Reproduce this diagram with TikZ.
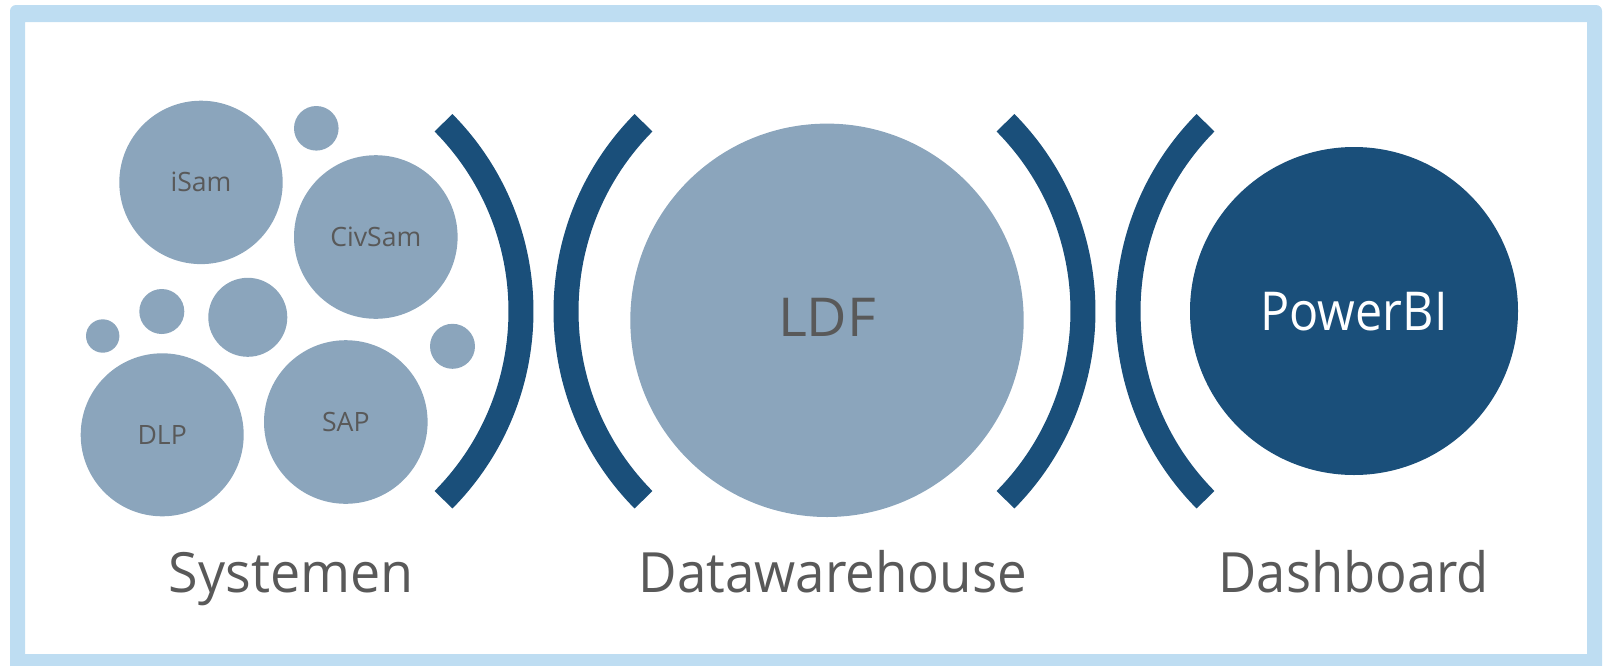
\documentclass[tikz,border=0pt]{standalone}
\usepackage{fontspec}
\setmainfont{Open Sans}
\definecolor{lightblob}{HTML}{8BA5BC}
\definecolor{darkblue}{HTML}{1A4F7A}
\definecolor{framecol}{HTML}{BEDDF2}
\definecolor{txtgray}{HTML}{595959}
\begin{document}
\begin{tikzpicture}[x=1pt,y=-1pt,
  blob/.style={circle, fill=lightblob, inner sep=0pt, text=txtgray},
  smalltxt/.style={font=\fontsize{26.6}{30}\selectfont, text height=19pt, text depth=0pt},
  bigtxt/.style={font=\fontsize{53.6}{60}\selectfont, text height=38.3pt, text depth=0pt},
  bracket/.style={draw=darkblue, line width=25pt, line cap=butt},
  caption/.style={font=\fontsize{55.5}{64}\selectfont, text=txtgray, anchor=base, inner sep=0pt}]
\useasboundingbox (0,0) rectangle (1607,665);
\fill[framecol, even odd rule] [rounded corners=6pt] (10,5) rectangle (1602,675) [sharp corners] (25,22) rectangle (1587,654);

% Systemen group
\node[blob, minimum size=163.4pt, smalltxt] (isam) at (201,182.4) {iSam};
\node[blob, minimum size=163.6pt, smalltxt] (civsam) at (375.8,237) {CivSam};
\node[blob, minimum size=163pt, smalltxt] (dlp) at (162.2,434.8) {DLP};
\node[blob, minimum size=163.6pt, smalltxt] (sap) at (345.8,422) {SAP};
\node[blob, minimum size=44.6pt] (s1) at (316.3,128.3) {};
\node[blob, minimum size=79pt] (s2) at (247.8,317.3) {};
\node[blob, minimum size=45pt] (s3) at (161.8,311.5) {};
\node[blob, minimum size=33.4pt] (s4) at (102.7,336) {};
\node[blob, minimum size=45pt] (s5) at (452.5,346.3) {};

% Datawarehouse
\node[blob, minimum size=393.4pt, bigtxt, text depth=5.6pt] (ldf) at (827,320.3) {\scalebox{1.036}[1]{LDF}};
% Dashboard
\node[circle, fill=darkblue, inner sep=0pt, minimum size=328pt, bigtxt, text=white] (pbi) at (1354,311) {\scalebox{0.905}[1]{PowerBI}};

% brackets
\coordinate (c1) at (253,311.25);
\coordinate (c2) at (834,311.25);
\coordinate (c3) at (815,311.25);
\coordinate (c4) at (1396,311.25);
\draw[bracket] ([shift={(-44.7:268pt)}]c1) arc[start angle=-44.7, end angle=44.7, radius=268pt];
\draw[bracket] ([shift={(135.3:268pt)}]c2) arc[start angle=135.3, end angle=224.7, radius=268pt];
\draw[bracket] ([shift={(-44.7:268pt)}]c3) arc[start angle=-44.7, end angle=44.7, radius=268pt];
\draw[bracket] ([shift={(135.3:268pt)}]c4) arc[start angle=135.3, end angle=224.7, radius=268pt];

% captions
\node[caption] (cap1) at (291.3,592.7) {\scalebox{0.97}[1]{Systemen}};
\node[caption] (cap2) at (832.8,592.7) {\scalebox{0.953}[1]{Datawarehouse}};
\node[caption] (cap3) at (1353.7,592.7) {\scalebox{0.945}[1]{Dashboard}};
\end{tikzpicture}
\end{document}
